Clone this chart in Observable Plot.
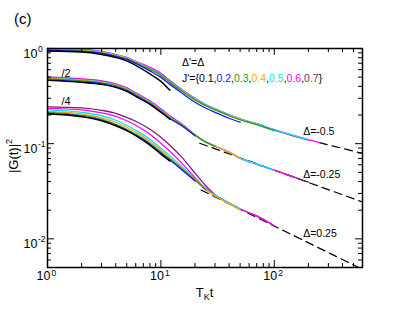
<!DOCTYPE html>
<html><head><meta charset="utf-8">
<script src="https://cdn.jsdelivr.net/npm/d3@7"></script>
<script src="https://cdn.jsdelivr.net/npm/@observablehq/plot@0.6"></script>
<style>
body{margin:0;background:#fff;}
#chart{width:407px;height:315px;}
</style></head><body><div id="chart"></div>
<script>
// time grid (T_K t)
const tGrid = [1,2,3,4,5,6,8,10,12,15,20,25,30,40,50,70,100,150,200,250];
const jPrime = ["0.1","0.2","0.3","0.4","0.5","0.6","0.7"];
const jColors = ["#000000","#1a1aff","#22a022","#ffa500","#00e8ff","#ff00ff","#7d1f6b"];

// Delta = -0.5 (top group)
const top01 = [0.9415,0.9190,0.8653,0.8049,0.7400,0.6637,0.5407,0.4513,0.3633];
const top02 = [0.9529,0.9302,0.8864,0.8245,0.7670,0.6965,0.5813,0.4970,0.4198,0.3462,0.2720,0.2354,0.2137,0.1849,0.1679];
const top03 = [0.9645,0.9415,0.8972,0.8346,0.7764,0.7050,0.6027,0.5215,0.4405,0.3633,0.2889,0.2500,0.2270,0.1965,0.1784,0.1581,0.1369];
const top04 = [0.9762,0.9529,0.9080,0.8447,0.7857,0.7135,0.6100,0.5278,0.4459,0.3677,0.2924,0.2530,0.2298,0.1988,0.1805,0.1600];
const top05 = [0.9880,0.9645,0.9190,0.8550,0.7953,0.7222,0.6174,0.5342,0.4513,0.3721,0.2959,0.2561,0.2326,0.2012,0.1827,0.1620,0.1401,0.1212,0.1102];
const top06 = [1.0000,0.9762,0.9302,0.8653,0.8049,0.7309,0.6325,0.5473,0.4623,0.3766,0.2995,0.2561,0.2326,0.2012,0.1827,0.1620,0.1401,0.1212,0.1102,0.1025];
const top07 = [0.9880,0.9645,0.9190,0.8549,0.7953,0.7222,0.6250,0.5407,0.4568,0.3721,0.2959,0.2530,0.2298,0.1988,0.1805,0.1600,0.1385,0.1198,0.1088];

// Delta = -0.25 (middle group, /2)
const mid01 = [0.4623,0.4405,0.4198,0.3905,0.3546,0.3143,0.2592,0.2137,0.1805];
const mid02 = [0.4679,0.4459,0.4249,0.3952,0.3590,0.3182,0.2624,0.2163,0.1827,0.1562,0.1212];
const mid03 = [0.4793,0.4568,0.4352,0.4049,0.3677,0.3260,0.2688,0.2216,0.1872,0.1600,0.1227,0.1037,0.0941];
const mid04 = [0.4851,0.4623,0.4405,0.4098,0.3721,0.3299,0.2720,0.2243,0.1894,0.1600,0.1227,0.1037,0.0941,0.0815,0.0705];
const mid05 = [0.4910,0.4679,0.4459,0.4148,0.3766,0.3339,0.2753,0.2270,0.1917,0.1600,0.1227,0.1037,0.0941,0.0815,0.0705,0.0610,0.0528];
const mid06 = [0.5030,0.4793,0.4568,0.4249,0.3858,0.3420,0.2820,0.2326,0.1965,0.1639,0.1242,0.1037,0.0941,0.0815,0.0705,0.0610,0.0528,0.0446];
const mid07 = [0.4970,0.4736,0.4513,0.4198,0.3812,0.3379,0.2786,0.2298,0.1941,0.1620,0.1227,0.1037,0.0941,0.0815,0.0705,0.0610,0.0528,0.0446,0.0395];

// Delta = 0.25 (bottom group, /4)
const bot01 = [0.2061,0.1917,0.1741,0.1543,0.1369,0.1212,0.0964,0.0776,0.0656];
const bot02 = [0.2086,0.1941,0.1762,0.1562,0.1385,0.1227,0.0988,0.0795,0.0672,0.0541,0.0405];
const bot03 = [0.2137,0.1988,0.1805,0.1600,0.1418,0.1257,0.1012,0.0815,0.0688,0.0554,0.0415,0.0326];
const bot04 = [0.2189,0.2061,0.1872,0.1679,0.1488,0.1319,0.1062,0.0855,0.0713,0.0567,0.0420,0.0326,0.0282,0.0233,0.0201];
const bot05 = [0.2270,0.2137,0.1965,0.1762,0.1562,0.1385,0.1115,0.0897,0.0749,0.0588,0.0425,0.0330,0.0289,0.0238,0.0206];
const bot06 = [0.2354,0.2270,0.2111,0.1941,0.1741,0.1562,0.1257,0.1012,0.0834,0.0640,0.0440,0.0336,0.0289,0.0238,0.0206,0.0174,0.0137];
const bot07 = [0.2440,0.2382,0.2243,0.2086,0.1894,0.1720,0.1418,0.1170,0.0964,0.0740,0.0491,0.0359,0.0291,0.0238,0.0206,0.0174,0.0137];

// asymptotic power-law guides (dashed)
const dashTopT = [250, 600], dashTopV = [0.1025, 0.079];
const dashMidT = [22, 600],  dashMidV = [0.101, 0.0244];
const dashBotT = [22.6, 555], dashBotV = [0.0326, 0.005];

// axis ticks
const xMajor = [1, 10, 100];
const xMinor = [2,3,4,5,6,7,8,9,20,30,40,50,60,70,80,90,200,300,400,500,600];
const xExp = ["0","1","2"];
const yMajor = [1, 0.1, 0.01];
const yMinor = [0.005,0.006,0.007,0.008,0.009,0.02,0.03,0.04,0.05,0.06,0.07,0.08,0.09,0.2,0.3,0.4,0.5,0.6,0.7,0.8,0.9];
const yExp = ["0","-1","-2"];

const groups = [
  [top01,top02,top03,top04,top05,top06,top07],
  [mid01,mid02,mid03,mid04,mid05,mid06,mid07],
  [bot01,bot02,bot03,bot04,bot05,bot06,bot07]
];
const dashes = [[dashTopT,dashTopV],[dashMidT,dashMidV],[dashBotT,dashBotV]];

const W = 407, H = 315, mL = 47, mR = 45, mT = 48, mB = 48;
const iW = W - mL - mR, iH = H - mT - mB;

const marks = [];
for (const [T, V] of dashes) {
  marks.push(Plot.line(T.map((t, i) => ({t, v: V[i]})), {x: "t", y: "v", stroke: "black", strokeWidth: 1.2, strokeDasharray: "8,5"}));
}
for (const g of groups) {
  for (let j = 6; j >= 0; j--) {
    const rows = g[j].map((v, i) => ({t: tGrid[i], v}));
    marks.push(Plot.line(rows, {x: "t", y: "v", stroke: jColors[j], strokeWidth: j === 0 ? 1.4 : 1.3, curve: "monotone-x"}));
  }
}
marks.push(
  Plot.ruleX(xMajor, {x: d => d, insetTop: iH - 7, stroke: "black", strokeWidth: 1}),
  Plot.ruleX(xMajor, {x: d => d, insetBottom: iH - 7, stroke: "black", strokeWidth: 1}),
  Plot.ruleX(xMinor, {x: d => d, insetTop: iH - 4, stroke: "black", strokeWidth: 1}),
  Plot.ruleX(xMinor, {x: d => d, insetBottom: iH - 4, stroke: "black", strokeWidth: 1}),
  Plot.ruleY(yMajor, {y: d => d, insetRight: iW - 7, stroke: "black", strokeWidth: 1}),
  Plot.ruleY(yMajor, {y: d => d, insetLeft: iW - 7, stroke: "black", strokeWidth: 1}),
  Plot.ruleY(yMinor, {y: d => d, insetRight: iW - 4, stroke: "black", strokeWidth: 1}),
  Plot.ruleY(yMinor, {y: d => d, insetLeft: iW - 4, stroke: "black", strokeWidth: 1}),
  Plot.frame({stroke: "black", strokeWidth: 1.5}),
  Plot.text(xMajor, {x: d => d, frameAnchor: "bottom", text: () => "10", textAnchor: "end", lineAnchor: "bottom", dx: 3, dy: 12.5, fontSize: 12.5, fill: "black"}),
  Plot.text(xMajor, {x: d => d, frameAnchor: "bottom", text: (d, i) => xExp[i], textAnchor: "start", lineAnchor: "bottom", dx: 4, dy: 8.5, fontSize: 8.5, fill: "black"}),
  Plot.text(yMajor, {y: d => d, frameAnchor: "left", text: () => "10", textAnchor: "end", lineAnchor: "bottom", dx: -10, dy: 9, fontSize: 12.5, fill: "black"}),
  Plot.text(yMajor, {y: d => d, frameAnchor: "left", text: (d, i) => yExp[i], textAnchor: "start", lineAnchor: "bottom", dx: -9.5, dy: 3.5, fontSize: 8.5, fill: "black"}),
  Plot.text(["/2"], {x: () => 1.33, y: () => 0.497, text: d => d, textAnchor: "start", lineAnchor: "bottom", fontSize: 11, fill: "black"}),
  Plot.text(["/4"], {x: () => 1.33, y: () => 0.253, text: d => d, textAnchor: "start", lineAnchor: "bottom", fontSize: 11, fill: "black"}),
  Plot.text(["Δ=-0.5"], {x: () => 180, y: () => 0.123, text: d => d, textAnchor: "start", lineAnchor: "bottom", fontSize: 10.5, fill: "black"}),
  Plot.text(["Δ=-0.25"], {x: () => 180, y: () => 0.0435, text: d => d, textAnchor: "start", lineAnchor: "bottom", fontSize: 10.5, fill: "black"}),
  Plot.text(["Δ=0.25"], {x: () => 180, y: () => 0.0105, text: d => d, textAnchor: "start", lineAnchor: "bottom", fontSize: 10.5, fill: "black"})
);

const plot = Plot.plot({
  width: W, height: H,
  marginLeft: mL, marginRight: mR, marginTop: mT, marginBottom: mB,
  style: {fontFamily: "'Liberation Sans', Arial, sans-serif", background: "white", color: "black", overflow: "visible"},
  x: {type: "log", domain: [1, 600], axis: null},
  y: {type: "log", domain: [0.005, 1], axis: null},
  marks
});
document.getElementById("chart").appendChild(plot);

const svg = d3.select(plot);
const ff = "'Liberation Sans', Arial, sans-serif";
svg.append("text").attr("x", 14).attr("y", 24).attr("text-anchor", "start").attr("font-size", 15).attr("font-family", ff).attr("fill", "black").text("(c)");
const xt = svg.append("text").attr("x", 204.5).attr("y", 297).attr("text-anchor", "middle").attr("font-size", 13).attr("font-family", ff).attr("fill", "black");
xt.append("tspan").text("T");
xt.append("tspan").attr("font-size", 9).attr("dy", 3).text("K");
xt.append("tspan").attr("dy", -3).text("t");
const yt = svg.append("text").attr("transform", "translate(17.5,156) rotate(-90)").attr("text-anchor", "middle").attr("font-size", 13).attr("font-family", ff).attr("fill", "black");
yt.append("tspan").text("|G(t)|");
yt.append("tspan").attr("font-size", 9).attr("dy", -6).text("2");
svg.append("text").attr("x", 182).attr("y", 65.5).attr("text-anchor", "start").attr("font-size", 10.5).attr("font-family", ff).attr("fill", "black").text("Δ'=Δ");
const lg = svg.append("text").attr("x", 182).attr("y", 82).attr("text-anchor", "start").attr("font-size", 10.5).attr("font-family", ff).attr("fill", "black");
lg.append("tspan").text("J'={");
jPrime.forEach((j, i) => {
  lg.append("tspan").attr("fill", jColors[i]).text(j);
  lg.append("tspan").attr("fill", "black").text(i < jPrime.length - 1 ? "," : "}");
});
</script>
</body></html>
